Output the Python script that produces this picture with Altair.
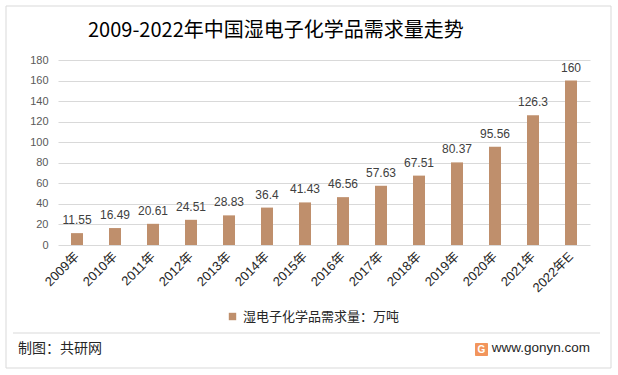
import altair as alt
import pandas as pd

years = ["2009年", "2010年", "2011年", "2012年", "2013年", "2014年", "2015年",
         "2016年", "2017年", "2018年", "2019年", "2020年", "2021年", "2022年E"]
values = [11.55, 16.49, 20.61, 24.51, 28.83, 36.4, 41.43, 46.56, 57.63, 67.51,
          80.37, 95.56, 126.3, 160]
value_labels = ["11.55", "16.49", "20.61", "24.51", "28.83", "36.4", "41.43",
                "46.56", "57.63", "67.51", "80.37", "95.56", "126.3", "160"]
y_ticks = [0, 20, 40, 60, 80, 100, 120, 140, 160, 180]
series_name = "湿电子化学品需求量：万吨"
title_text = "2009-2022年中国湿电子化学品需求量走势"
source_text = "制图：共研网"
site_text = "www.gonyn.com"

df = pd.DataFrame({"year": years, "value": values, "label": value_labels,
                   "series": [series_name] * len(years)})
one = pd.DataFrame({"k": [0]})

W, H = 532, 185
OX, OY = 58, 60
FONT = "Liberation Sans, Noto Sans CJK SC"
CJK = "Noto Sans CJK SC"

x_enc = alt.X("year:N", sort=years,
              scale=alt.Scale(paddingInner=0, paddingOuter=0),
              axis=alt.Axis(title=None, labelAngle=-45, labelAlign="right",
                            labelBaseline="middle", labelPadding=9, ticks=False,
                            domain=False, labelFontSize=13, labelColor="#262626",
                            labelFont=FONT, grid=False, labelOverlap=False))
y_enc = alt.Y("value:Q", scale=alt.Scale(domain=[0, 180], nice=False),
              axis=alt.Axis(title=None, values=y_ticks, ticks=False, domain=False,
                            gridColor="#d9d9d9", labelPadding=10, labelFontSize=11,
                            labelColor="#595959", labelFont=FONT,
                            labelOverlap=False, labelFlush=False))

border = alt.Chart(one).mark_rect(fill="transparent", stroke="#d9d9d9", strokeWidth=1).encode(
    x=alt.value(6 - OX), x2=alt.value(611 - OX),
    y=alt.value(6 - OY), y2=alt.value(368 - OY))

bars = alt.Chart(df).mark_bar(size=12).encode(
    x=x_enc, y=y_enc,
    color=alt.Color("series:N", scale=alt.Scale(range=["#bf8f6c"]),
                    legend=alt.Legend(title=None, orient="none",
                                      legendX=226 - OX, legendY=310 - OY,
                                      symbolType="square", symbolSize=55,
                                      symbolStrokeWidth=0,
                                      labelFontSize=13, labelFont=CJK,
                                      labelColor="#262626", labelLimit=400)))

labels = alt.Chart(df).mark_text(dy=-13, baseline="middle", fontSize=12,
                                 color="#404040", font=FONT).encode(
    x=x_enc, y=y_enc, text="label:N")

title = alt.Chart(one).mark_text(align="left", baseline="middle", fontSize=20,
                                 font=CJK, color="#000000").encode(
    x=alt.value(88 - OX), y=alt.value(31 - OY), text=alt.value(title_text))

sep = alt.Chart(one).mark_rule(color="#d9d9d9", strokeWidth=1).encode(
    x=alt.value(13 - OX), x2=alt.value(600 - OX), y=alt.value(333 - OY))

source = alt.Chart(one).mark_text(align="left", baseline="middle", fontSize=14,
                                  font=CJK, color="#262626").encode(
    x=alt.value(18 - OX), y=alt.value(349 - OY), text=alt.value(source_text))

site = alt.Chart(one).mark_text(align="right", baseline="middle", fontSize=13.5,
                                font="Liberation Sans", color="#262626").encode(
    x=alt.value(590 - OX), y=alt.value(348 - OY), text=alt.value(site_text))

logo = alt.Chart(one).mark_rect(fill="#f2955c", cornerRadius=1).encode(
    x=alt.value(475 - OX), x2=alt.value(488 - OX),
    y=alt.value(343 - OY), y2=alt.value(356 - OY))
logo_g = alt.Chart(one).mark_text(align="center", baseline="middle", fontSize=10,
                                  fontWeight="bold", font="Liberation Sans",
                                  color="white").encode(
    x=alt.value(481.5 - OX), y=alt.value(350 - OY), text=alt.value("G"))

chart = alt.layer(border, bars, labels, title, sep, source, site, logo, logo_g).properties(
    width=W, height=H,
    padding={"left": OX, "top": OY, "right": 618 - OX - W, "bottom": 375 - OY - H},
    autosize=alt.AutoSizeParams(type="none"),
    background="white",
).configure_view(strokeWidth=0)

chart.save("out.html", embed_options={"renderer": "svg", "actions": False})
